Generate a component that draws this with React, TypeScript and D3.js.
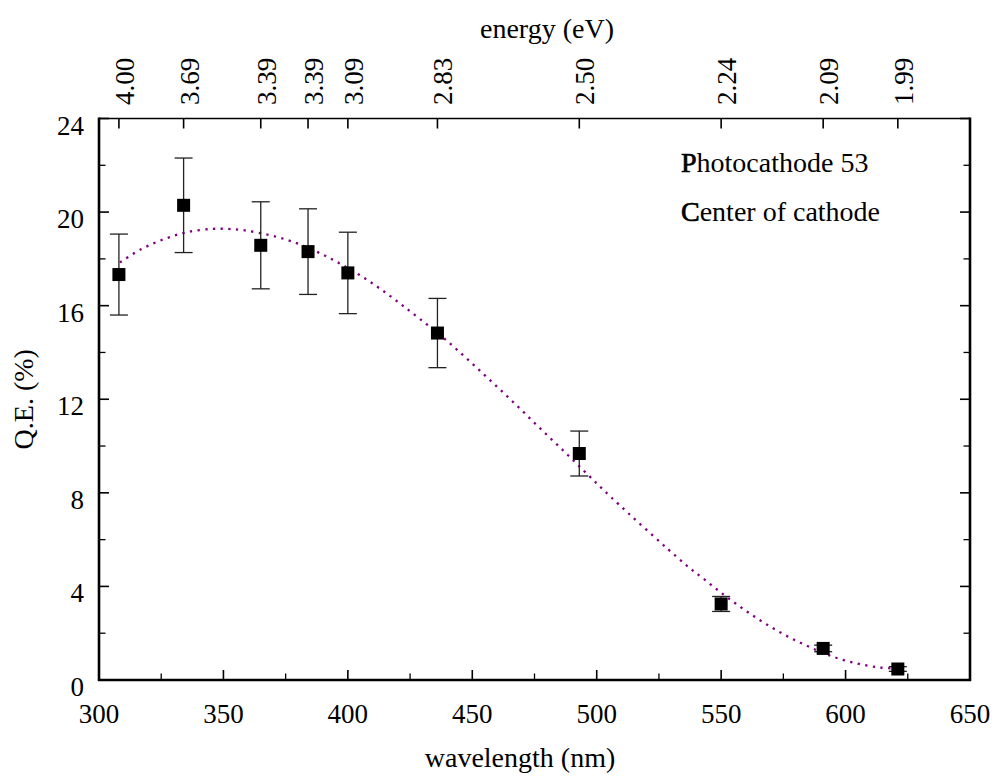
import React from "react";
import * as d3 from "d3";

// ---- data ----
const wavelengths = [308, 334, 365, 384, 400, 436, 493, 550, 591, 621];
const qeValues = [17.33, 20.29, 18.58, 18.31, 17.4, 14.83, 9.68, 3.25, 1.35, 0.47];
const qeErrors = [1.73, 2.02, 1.86, 1.83, 1.74, 1.48, 0.96, 0.32, 0.14, 0.1];

const energyLabels = ["4.00", "3.69", "3.39", "3.39", "3.09", "2.83", "2.50", "2.24", "2.09", "1.99"];

const fitWl = [308.4, 316.9, 326.0, 335.4, 345.3, 351.8, 358.5, 368.3, 377.7, 386.8, 395.6, 404.4, 412.5, 420.5, 428.5, 438.8, 448.7, 458.4, 468.0, 477.3, 486.9, 496.4, 505.9, 535.2, 543.1, 551.0, 559.1, 567.3, 575.9, 584.9, 594.0, 603.6, 613.4, 621.5];
const fitQE = [17.85, 18.41, 18.84, 19.14, 19.28, 19.28, 19.22, 19.02, 18.74, 18.34, 17.87, 17.33, 16.76, 16.13, 15.47, 14.59, 13.65, 12.69, 11.72, 10.75, 9.77, 8.78, 7.80, 4.98, 4.31, 3.65, 3.02, 2.44, 1.91, 1.44, 1.03, 0.73, 0.54, 0.48];

const xMajorTicks = [300, 350, 400, 450, 500, 550, 600, 650];
const xMinorTicks = [325, 375, 425, 475, 525, 575, 625];
const yMajorTicks = [0, 4, 8, 12, 16, 20, 24];
const yMinorTicks = [2, 6, 10, 14, 18, 22];

const legendLines = ["Photocathode 53", "Center of cathode"];

const W = 995;
const H = 777;
const L = 99, R = 970, T = 118.5, B = 680;
const FF = "Times New Roman";

function Label(props: { x?: number; y?: number; transform?: string; size: number; anchor?: string; children: React.ReactNode }) {
  return (
    <text
      x={props.x}
      y={props.y}
      transform={props.transform}
      fontFamily={FF}
      textAnchor={props.anchor || "start"}
      fill="#000"
      style={{ fontFamily: FF, fontSize: props.size + "px" }}
    >
      {props.children}
    </text>
  );
}

export default function App() {
  const x = d3.scaleLinear().domain([300, 650]).range([L, R]);
  const y = d3.scaleLinear().domain([0, 24]).range([B, T]);

  const fitData = fitWl.map((w, i) => [w, fitQE[i]] as [number, number]);
  const fitPath = d3
    .line<[number, number]>()
    .x((d) => x(d[0]))
    .y((d) => y(d[1]))
    .curve(d3.curveCatmullRom)(fitData) as string;

  const sq = 13;
  const cap = 9;

  return (
    <svg width={W} height={H} fontFamily={FF} style={{ display: "block", position: "absolute", left: 0, top: 0, fontFamily: FF }}>
      <rect x={0} y={0} width={W} height={H} fill="#fff" />

      {/* fit curve */}
      <path d={fitPath} fill="none" stroke="#800080" strokeWidth={2.3} strokeDasharray="2.3 5.4" />

      {/* error bars */}
      {wavelengths.map((w, i) => {
        const cx = x(w);
        const y1 = y(qeValues[i] + qeErrors[i]);
        const y2 = y(qeValues[i] - qeErrors[i]);
        return (
          <g key={"e" + i} stroke="#222" strokeWidth={1.3}>
            <line x1={cx} x2={cx} y1={y1} y2={y2} />
            <line x1={cx - cap} x2={cx + cap} y1={y1} y2={y1} />
            <line x1={cx - cap} x2={cx + cap} y1={y2} y2={y2} />
          </g>
        );
      })}

      {/* markers */}
      {wavelengths.map((w, i) => (
        <rect key={"m" + i} x={x(w) - sq / 2} y={y(qeValues[i]) - sq / 2} width={sq} height={sq} fill="#000" />
      ))}

      {/* frame */}
      <line x1={L} x2={R} y1={T} y2={T} stroke="#000" strokeWidth={1.3} />
      <line x1={L} x2={L} y1={T - 1} y2={B + 1} stroke="#000" strokeWidth={2.6} />
      <line x1={R} x2={R} y1={T - 1} y2={B + 1} stroke="#000" strokeWidth={2.6} />
      <line x1={L - 1} x2={R + 1} y1={B} y2={B} stroke="#000" strokeWidth={2.6} />

      {/* bottom ticks */}
      {xMajorTicks.map((t) => (
        <g key={"xb" + t}>
          <line x1={x(t)} x2={x(t)} y1={B} y2={B - 10} stroke="#000" strokeWidth={1.6} />
          <Label x={x(t)} y={723} size={27} anchor="middle">{t}</Label>
        </g>
      ))}
      {xMinorTicks.map((t) => (
        <line key={"xm" + t} x1={x(t)} x2={x(t)} y1={B} y2={B - 6.5} stroke="#000" strokeWidth={1.3} />
      ))}

      {/* left and right ticks */}
      {yMajorTicks.map((t) => (
        <g key={"yl" + t}>
          <line x1={L} x2={L + 10} y1={y(t)} y2={y(t)} stroke="#000" strokeWidth={1.6} />
          <line x1={R} x2={R - 10} y1={y(t)} y2={y(t)} stroke="#000" strokeWidth={1.6} />
          <Label x={84} y={y(t) + 16} size={27} anchor="end">{t}</Label>
        </g>
      ))}
      {yMinorTicks.map((t) => (
        <g key={"ym" + t}>
          <line x1={L} x2={L + 6.5} y1={y(t)} y2={y(t)} stroke="#000" strokeWidth={1.3} />
          <line x1={R} x2={R - 6.5} y1={y(t)} y2={y(t)} stroke="#000" strokeWidth={1.3} />
        </g>
      ))}

      {/* top energy axis */}
      {wavelengths.map((w, i) => (
        <g key={"et" + i}>
          <line x1={x(w)} x2={x(w)} y1={T} y2={T + 10} stroke="#000" strokeWidth={1.6} />
          <Label transform={`translate(${x(w) + 15},105) rotate(-90)`} size={27}>{energyLabels[i]}</Label>
        </g>
      ))}

      {/* titles */}
      <Label x={547} y={38} size={28} anchor="middle">energy (eV)</Label>
      <Label x={520} y={767} size={28} anchor="middle">wavelength (nm)</Label>
      <Label transform={`translate(33,${(T + B) / 2}) rotate(-90)`} size={28} anchor="middle">Q.E. (%)</Label>

      {/* legend text (first letter slightly heavier, as in the reference) */}
      {legendLines.map((s, i) => (
        <Label key={"lg" + i} x={681} y={172 + i * 49} size={28}>
          <tspan stroke="#000" strokeWidth={0.7}>{s.charAt(0)}</tspan>
          {s.slice(1)}
        </Label>
      ))}
    </svg>
  );
}
